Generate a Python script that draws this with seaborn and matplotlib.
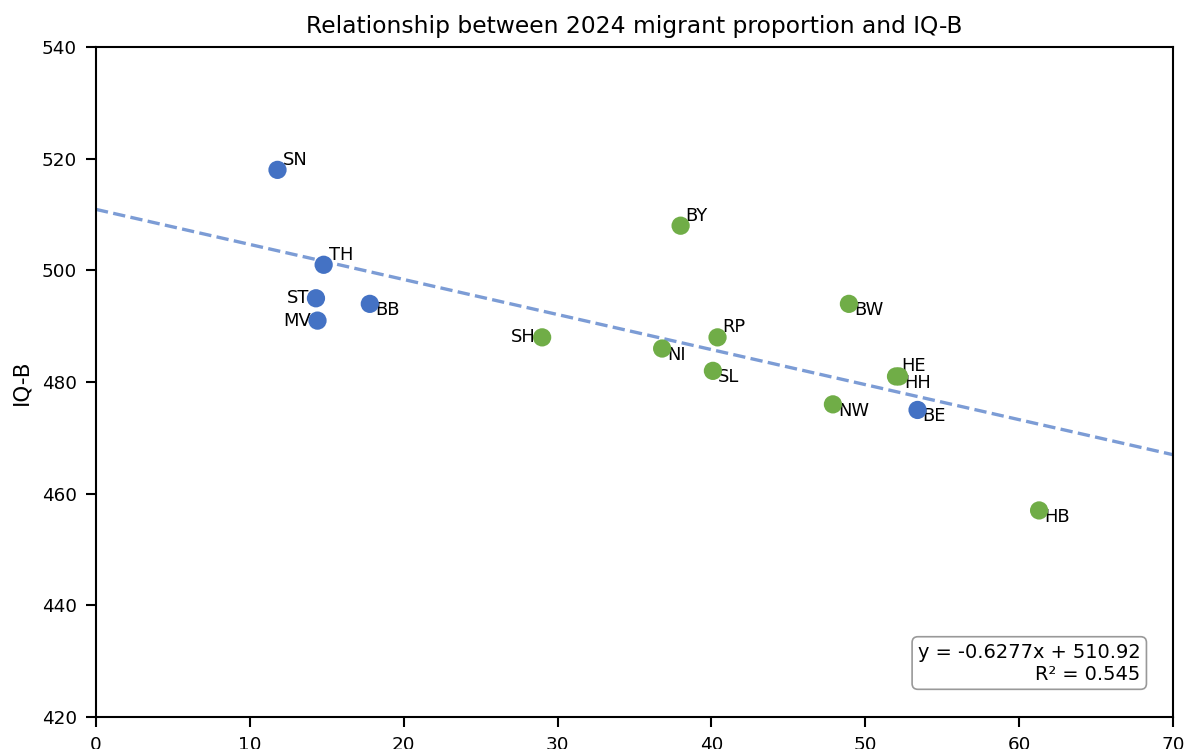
import numpy as np
import pandas as pd
import matplotlib
matplotlib.use('Agg')
import matplotlib.pyplot as plt
import seaborn as sns


# Daten: Migrantenanteil 2024 (%) und IQB-Punkte je Bundesland
states = ['SN', 'TH', 'ST', 'MV', 'BB', 'SH', 'BY', 'NI',
          'RP', 'SL', 'BW', 'HE', 'HH', 'NW', 'BE', 'HB']
migrant_share = [11.8, 14.8, 14.3, 14.4, 17.8, 29.0, 38.0, 36.8,
                 40.4, 40.1, 48.94, 52.0, 52.2, 47.9, 53.4, 61.3]
iqb_score = [518, 501, 495, 491, 494, 488, 508, 486,
             488, 482, 494, 481, 481, 476, 475, 457]
region = ['Ost', 'Ost', 'Ost', 'Ost', 'Ost', 'West', 'West', 'West',
          'West', 'West', 'West', 'West', 'West', 'West', 'Ost', 'West']

# Beschriftung: links, oben rechts oder unten rechts vom Punkt
label_pos = ['above', 'above', 'left', 'left', 'below', 'left', 'above', 'below',
             'above', 'below', 'below', 'above', 'below', 'below', 'below', 'below']

df = pd.DataFrame({'state': states, 'migrant': migrant_share,
                   'iqb': iqb_score, 'region': region})

# Regression
slope, intercept = np.polyfit(df['migrant'], df['iqb'], 1)
pred = slope * df['migrant'] + intercept
r2 = 1 - ((df['iqb'] - pred) ** 2).sum() / ((df['iqb'] - df['iqb'].mean()) ** 2).sum()

sns.set_theme(style='ticks', context='notebook')
plt.rcParams['font.family'] = ['DejaVu Sans']
plt.rcParams['axes.edgecolor'] = 'black'
plt.rcParams['text.color'] = 'black'
plt.rcParams['axes.labelcolor'] = 'black'
plt.rcParams['xtick.color'] = 'black'
plt.rcParams['ytick.color'] = 'black'

fig = plt.figure(figsize=(1186 / 120, 749 / 120), dpi=120)
ax = fig.add_axes([0.0809, 0.0427, 0.9081, 0.8945])

xmin, xmax = 0, 70
xs = np.linspace(xmin, xmax, 2)
ax.plot(xs, slope * xs + intercept, '--', color='#4472C4', alpha=0.7, lw=2, zorder=1)

sns.scatterplot(data=df, x='migrant', y='iqb', hue='region',
                palette={'Ost': '#4472C4', 'West': '#70AD47'},
                s=120, linewidth=0, legend=False, ax=ax, zorder=4)

for name, x, y, pos in zip(states, migrant_share, iqb_score, label_pos):
    if pos == 'left':
        ax.annotate(name, (x, y), xytext=(-4, 0), textcoords='offset points',
                    ha='right', va='center', fontsize=10.7)
    elif pos == 'above':
        ax.annotate(name, (x, y), xytext=(3, 3), textcoords='offset points',
                    ha='left', va='baseline', fontsize=10.7)
    else:
        ax.annotate(name, (x, y), xytext=(3, -6.8), textcoords='offset points',
                    ha='left', va='baseline', fontsize=10.7)

ax.text(0.97, 0.05, f'y = {slope:.4f}x + {intercept:.2f}\nR² = {r2:.3f}',
        transform=ax.transAxes, ha='right', va='bottom', fontsize=11.6,
        multialignment='right',
        bbox=dict(boxstyle='round', facecolor='white', edgecolor='gray', alpha=0.8))

ax.set_xlim(xmin, xmax)
ax.set_ylim(420, 540)
ax.set_title('Relationship between 2024 migrant proportion and IQ-B', fontsize=14, pad=8.5)
ax.set_xlabel('')
ax.set_ylabel('IQ-B', fontsize=12.8, labelpad=6)
ax.tick_params(labelsize=11, pad=5.5)

fig.savefig('out.png', dpi=120)
